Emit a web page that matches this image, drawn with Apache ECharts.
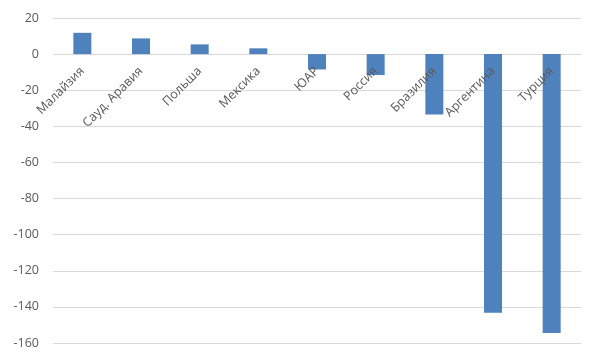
<!DOCTYPE html>
<html><head><meta charset="utf-8">
<script src="https://cdn.jsdelivr.net/npm/echarts@6/dist/echarts.min.js"></script>
<style>html,body{margin:0;padding:0;background:#fff}#c{width:600px;height:362px}</style>
</head><body><div id="c"></div>
<script>
const categories = ["Малайзия","Сауд. Аравия","Польша","Мексика","ЮАР","Россия","Бразилия","Аргентина","Турция"];
const values = [11.8, 8.7, 5.4, 3.2, -8.5, -11.6, -33.4, -143.2, -154.5];
const yTicks = {min: -160, max: 20, interval: 20};
const chart = echarts.init(document.getElementById('c'), null, {renderer: 'canvas'});
const gridOpt = {left: 53, right: 19, top: 18, bottom: 19, containLabel: false, outerBoundsMode: 'none'};
const option = {
  animation: false,
  grid: gridOpt,
  xAxis: {
    type: 'category', data: categories, position: 'bottom', offset: 0, z: 10,
    axisLine: {show: false, onZero: false},
    axisTick: {show: false},
    axisLabel: {rotate: 45, color: '#595959', fontSize: 12.5, fontFamily: 'Open Sans', margin: 15, interval: 0}
  },
  yAxis: {
    type: 'value', min: yTicks.min, max: yTicks.max, interval: yTicks.interval,
    axisLine: {show: false}, axisTick: {show: false},
    splitLine: {lineStyle: {color: '#d9d9d9', width: 1}},
    axisLabel: {color: '#595959', fontSize: 12.5, fontFamily: 'Open Sans', margin: 14}
  },
  series: [{type: 'bar', data: values, barWidth: 18, z: 2, itemStyle: {color: '#4f81bd'}}]
};
chart.setOption(option);
const zeroY = chart.convertToPixel({yAxisIndex: 0}, 0);
const bottomY = chart.convertToPixel({yAxisIndex: 0}, yTicks.min);
chart.setOption({xAxis: {offset: -(bottomY - zeroY)}});
</script></body></html>
